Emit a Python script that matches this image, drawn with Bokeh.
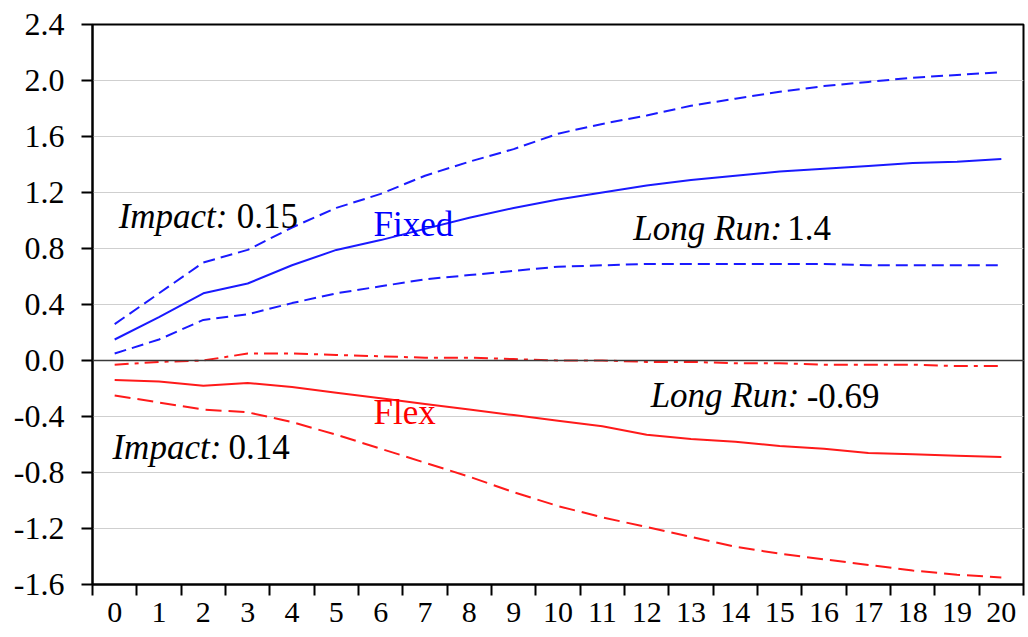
from bokeh.plotting import figure
from bokeh.models import FixedTicker, Span, Label
from bokeh.embed import file_html
from bokeh.resources import INLINE

# ---- data ----
periods = list(range(21))

fixed_irf = [0.15, 0.31, 0.48, 0.55, 0.68, 0.79, 0.86, 0.94, 1.02, 1.09, 1.15,
             1.20, 1.25, 1.29, 1.32, 1.35, 1.37, 1.39, 1.41, 1.42, 1.44]
fixed_hi = [0.26, 0.48, 0.70, 0.79, 0.95, 1.09, 1.19, 1.32, 1.42, 1.51, 1.62,
            1.69, 1.75, 1.82, 1.87, 1.92, 1.96, 1.99, 2.02, 2.04, 2.06]
fixed_lo = [0.05, 0.15, 0.29, 0.33, 0.41, 0.48, 0.53, 0.58, 0.61, 0.64, 0.67,
            0.68, 0.69, 0.69, 0.69, 0.69, 0.69, 0.68, 0.68, 0.68, 0.68]

flex_irf = [-0.14, -0.15, -0.18, -0.16, -0.19, -0.23, -0.27, -0.31, -0.35, -0.39, -0.43,
            -0.47, -0.53, -0.56, -0.58, -0.61, -0.63, -0.66, -0.67, -0.68, -0.69]
flex_hi = [-0.03, -0.01, 0.00, 0.05, 0.05, 0.04, 0.03, 0.02, 0.02, 0.01, 0.00,
           0.00, -0.01, -0.01, -0.02, -0.02, -0.03, -0.03, -0.03, -0.04, -0.04]
flex_lo = [-0.25, -0.30, -0.35, -0.37, -0.44, -0.53, -0.63, -0.73, -0.83, -0.94, -1.04,
           -1.12, -1.19, -1.26, -1.33, -1.38, -1.42, -1.46, -1.50, -1.53, -1.55]

y_ticks = [-1.6, -1.2, -0.8, -0.4, 0.0, 0.4, 0.8, 1.2, 1.6, 2.0, 2.4]
y_tick_labels = ["-1.6", "-1.2", "-0.8", "-0.4", "0.0", "0.4", "0.8", "1.2", "1.6", "2.0", "2.4"]
x_tick_labels = [str(k) for k in periods]
x_tick_marks = [k - 0.5 for k in periods] + [20.5]

annotations = [
    # (x, y, italic part, normal part, offset)
    (0.09, 1.03, "Impact:", "0.15", 118),
    (-0.05, -0.62, "Impact:", "0.14", 116),
    (11.70, 0.945, "Long Run:", "1.4", 154),
    (12.09, -0.25, "Long Run:", "-0.69", 156),
]
series_labels = [(5.84, 0.975, "Fixed", "#0000ff"), (5.84, -0.37, "Flex", "#ff0000")]

FONT = "Liberation Serif"

p = figure(width=1026, height=635, x_range=(-0.5, 20.5), y_range=(-1.6, 2.4),
           output_backend="svg", toolbar_location=None,
           min_border_left=92, min_border_right=3, min_border_top=24, min_border_bottom=51)

p.background_fill_color = "white"
p.outline_line_color = "black"
p.outline_line_width = 2

# grid
p.xgrid.visible = False
p.ygrid.grid_line_color = "#cfcfcf"
p.ygrid.grid_line_width = 1

# y axis
p.yaxis.ticker = FixedTicker(ticks=y_ticks)
p.yaxis.major_label_overrides = {t: l for t, l in zip(y_ticks, y_tick_labels)}
p.yaxis.minor_tick_line_color = None
p.yaxis.major_tick_in = 0
p.yaxis.major_tick_out = 11
p.yaxis.major_tick_line_width = 2
p.yaxis.major_tick_line_color = "black"
p.yaxis.axis_line_width = 2
p.yaxis.axis_line_color = "black"
p.yaxis.major_label_text_font = FONT
p.yaxis.major_label_text_font_size = "32px"
p.yaxis.major_label_text_color = "black"
p.yaxis.major_label_standoff = 17

# x axis
p.xaxis.ticker = FixedTicker(ticks=periods, minor_ticks=x_tick_marks)
p.xaxis.major_label_overrides = {k: l for k, l in zip(periods, x_tick_labels)}
p.xaxis.major_tick_in = 0
p.xaxis.major_tick_out = 11
p.xaxis.major_tick_line_alpha = 0
p.xaxis.minor_tick_in = 0
p.xaxis.minor_tick_out = 11
p.xaxis.minor_tick_line_width = 2
p.xaxis.minor_tick_line_color = "black"
p.xaxis.axis_line_width = 2
p.xaxis.axis_line_color = "black"
p.xaxis.major_label_text_font = FONT
p.xaxis.major_label_text_font_size = "30px"
p.xaxis.major_label_text_color = "black"
p.xaxis.major_label_standoff = 7

# zero line
p.add_layout(Span(location=0, dimension="width", line_color="#3a3a3a", line_width=1.5))

BLUE = "#1a1aff"
RED = "#ff1a1a"
LW = 2

p.line(periods, fixed_hi, line_color=BLUE, line_width=LW, line_dash="12 6")
p.line(periods, fixed_lo, line_color=BLUE, line_width=LW, line_dash="12 6")
p.line(periods, fixed_irf, line_color=BLUE, line_width=LW)

p.line(periods, flex_hi, line_color=RED, line_width=LW, line_dash="14 6 4 6")
p.line(periods, flex_lo, line_color=RED, line_width=LW, line_dash="16 7")
p.line(periods, flex_irf, line_color=RED, line_width=LW)

for x, y, ital, norm, off in annotations:
    p.add_layout(Label(x=x, y=y, text=ital, text_font=FONT, text_font_style="italic",
                       text_font_size="35px", text_color="black", text_baseline="alphabetic"))
    p.add_layout(Label(x=x, y=y, x_offset=off, text=norm, text_font=FONT,
                       text_font_size="35px", text_color="black", text_baseline="alphabetic"))

for x, y, txt, col in series_labels:
    p.add_layout(Label(x=x, y=y, text=txt, text_font=FONT, text_font_size="35px",
                       text_color=col, text_baseline="alphabetic"))

open("out.html", "w").write(file_html(p, INLINE))
